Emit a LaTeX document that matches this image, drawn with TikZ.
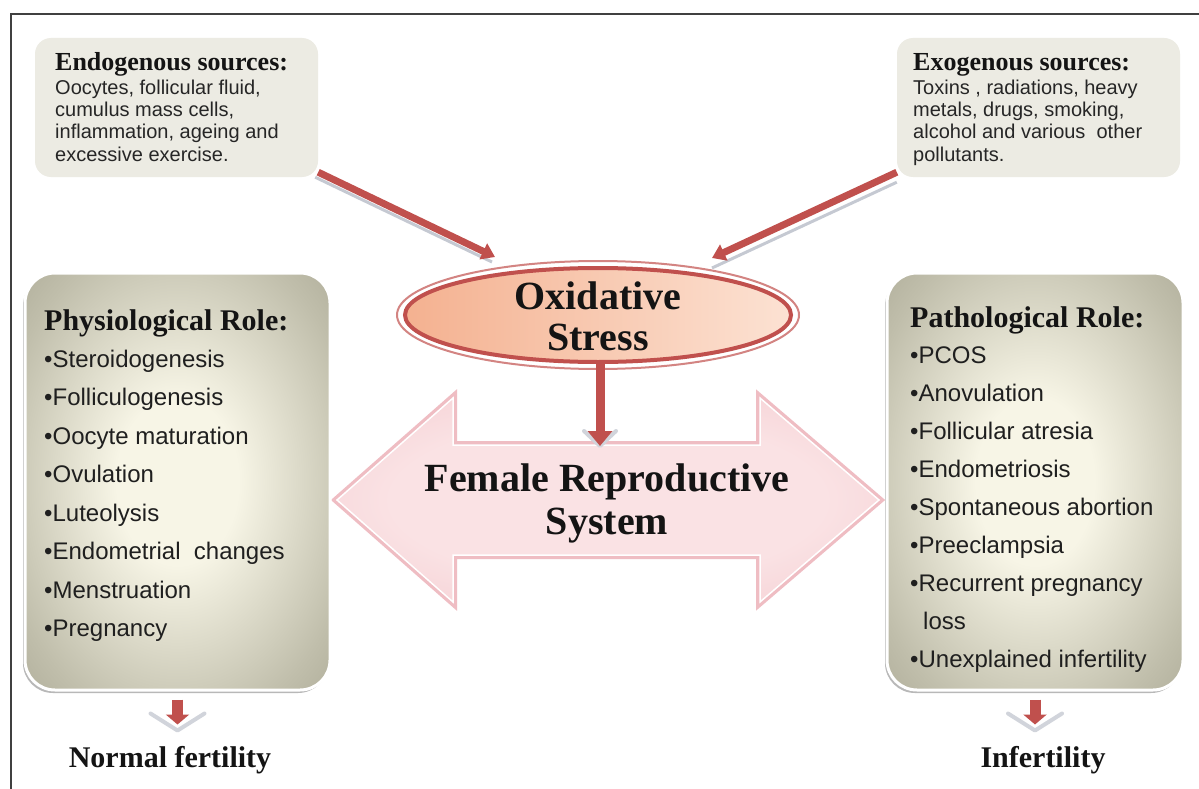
\documentclass[tikz,border=0pt]{standalone}
\usepackage{fontspec}
\setmainfont{Liberation Serif}
\setsansfont{Liberation Sans}
\usetikzlibrary{arrows.meta,shapes.geometric,calc}
\definecolor{boxfill}{HTML}{ECEBE3}
\definecolor{ared}{HTML}{C0504D}
\definecolor{pnlC}{HTML}{F7F5E6}
\definecolor{pnlM}{HTML}{C0BEAB}
\definecolor{pnlE}{HTML}{989682}
\definecolor{pnlK}{HTML}{74725E}
\definecolor{pinkA}{HTML}{F1BCC2}
\definecolor{pinkB}{HTML}{FAE2E4}
\definecolor{pinkE}{HTML}{E8A1A9}
\definecolor{peachA}{HTML}{F4B190}
\definecolor{peachB}{HTML}{FCE2D3}
\definecolor{shadowc}{HTML}{C5C9D2}
\pgfdeclareradialshading{panelshade}{\pgfpoint{0bp}{0bp}}{color(0bp)=(pnlC); color(10bp)=(pnlC); color(30bp)=(pnlM); color(47bp)=(pnlE); color(71bp)=(pnlK)}
\pgfdeclareradialshading{pinkshade}{\pgfpoint{0bp}{0bp}}{color(0bp)=(pinkB); color(20bp)=(pinkB); color(50bp)=(pinkA); color(71bp)=(pinkA)}
\tikzset{
  srcbox/.style={rectangle, rounded corners=16pt, fill=boxfill, minimum width=283pt, minimum height=139pt, inner sep=0pt},
  panel/.style={rectangle, rounded corners=30pt, minimum width=305pt, minimum height=417pt, inner sep=0pt,
    preaction={fill=black!28, transform canvas={shift={(-2pt,-3pt)}}},
    shading=panelshade, draw=white, line width=3pt},
  ttl/.style={font=\bfseries\fontsize{30}{32}\selectfont, anchor=base west, inner sep=0pt, text=black!92},
  itm/.style={font=\sffamily\fontsize{24}{26}\selectfont, anchor=base west, inner sep=0pt, text=black!88},
  srcT/.style={font=\bfseries\fontsize{26}{28}\selectfont, anchor=base west, inner sep=0pt, text=black!92},
  srcB/.style={font=\sffamily\fontsize{20}{22}\selectfont, anchor=base west, inner sep=0pt, text=black!85},
  big/.style={font=\bfseries\fontsize{40}{42}\selectfont, anchor=base, inner sep=0pt, text=black!92},
  lbl/.style={font=\bfseries\fontsize{30}{32}\selectfont, anchor=base, inner sep=0pt, text=black!92},
  srcarrow/.style={draw=ared, line width=7pt, -{Triangle[length=13pt,width=17pt]}},
  srcshadow/.style={draw=shadowc, line width=3pt, transform canvas={shift={(-3pt,-5pt)}}},
  smallarrow/.style={draw=ared, line width=11pt, -{Triangle[length=10pt,width=23pt]}},
  chev/.style={draw=shadowc!80, line width=4pt, line join=round, line cap=round}
}
\begin{document}
\begin{tikzpicture}[x=1pt,y=-1pt]
\useasboundingbox[fill=white] (0,0) rectangle (1199,789);
\draw[line width=1.8pt, black!75] (11,789) -- (11,14) -- (1199,14);

% source boxes
\node[srcbox] (endo) at (176.5,107.5) {};
\node[srcbox] (exo) at (1038.5,107.5) {};
\node[srcT] (endoT) at (55,71) {Endogenous sources:};
\foreach \t [count=\i] in {{Oocytes, follicular fluid,},{cumulus mass cells,},{inflammation, ageing and},{excessive exercise.}}
  \node[srcB] (endoL\i) at (55,{95+22*(\i-1)}) {\t};
\node[srcT] (exoT) at (913,71) {Exogenous sources:};
\foreach \t [count=\i] in {{Toxins , radiations, heavy},{metals, drugs, smoking,},{alcohol and various\ \ other},{pollutants.}}
  \node[srcB] (exoL\i) at (913,{95+22*(\i-1)}) {\t};

% oxidative stress
\node[ellipse, draw=ared!70, line width=2pt, fill=white, minimum width=402pt, minimum height=108pt] (oxo) at (598,315) {};
\node[ellipse, draw=ared, line width=4pt, left color=peachA, right color=peachB, minimum width=386pt, minimum height=94pt] (ox) at (598,315) {};
\node[big] (oxT1) at (598,309) {Oxidative};
\node[big] (oxT2) at (598,350) {Stress};
\coordinate (tipL) at (495,257);
\coordinate (tipR) at (712,258);

% source arrows
\draw[srcshadow] ([yshift=5pt]endo.south east) -- (tipL);
\draw[srcarrow] ([yshift=5pt]endo.south east) -- (tipL);
\draw[srcshadow, transform canvas={shift={(3pt,-5pt)}}] ([yshift=5pt]exo.south west) -- (tipR);
\draw[srcarrow] ([yshift=5pt]exo.south west) -- (tipR);

% double arrow
\def\dblarrow{(337,500) -- (453,398) -- (453,445) -- (760,445) -- (760,398) -- (879,500) -- (760,602) -- (760,555) -- (453,555) -- (453,602) -- cycle}
\draw[line width=8pt, pinkE!70, line join=miter] \dblarrow;
\path[shading=pinkshade] \dblarrow;
\draw[white, line width=1.5pt, line join=miter] \dblarrow;
\node[big] (fr1) at (607,491) {Female Reproductive};
\node[big] (fr2) at (607,534) {System};
\coordinate (shaftTop) at (600,446);

% down arrow from oxidative stress
\draw[chev] (584,431) -- (600,446) -- (616,431);
\draw[draw=ared, line width=9pt, -{Triangle[length=15pt,width=24pt]}] (ox.south -| shaftTop) -- (shaftTop);

% panels
\node[panel] (phys) at (177.5,481.5) {};
\node[panel, minimum width=296pt] (path) at (1035,481.5) {};
\node[ttl] (physT) at (44,330) {Physiological Role:};
\foreach \t [count=\i] in {Steroidogenesis,Folliculogenesis,Oocyte maturation,Ovulation,Luteolysis,{Endometrial\ \ changes},Menstruation,Pregnancy}
  \node[itm] (physL\i) at (44,{367+38.5*(\i-1)}) {\textbullet\t};
\node[ttl] (pathT) at (910,327) {Pathological Role:};
\foreach \t [count=\i] in {PCOS,Anovulation,Follicular atresia,Endometriosis,Spontaneous abortion,Preeclampsia,Recurrent pregnancy}
  \node[itm] (pathL\i) at (910,{363+38*(\i-1)}) {\textbullet\t};
\node[itm] (pathL8) at (923,629) {loss};
\node[itm] (pathL9) at (910,667) {\textbullet Unexplained infertility};

% bottom arrows and labels
\node[lbl] (normal) at (170,767) {Normal fertility};
\node[lbl] (infert) at (1043,767) {Infertility};
\draw[chev] ($(phys.south)+(-27,22)$) -- ($(phys.south)+(0,39)$) -- ($(phys.south)+(27,22)$);
\draw[smallarrow] ($(phys.south)+(0,8)$) -- ($(phys.south)+(0,33)$);
\draw[chev] ($(path.south)+(-27,22)$) -- ($(path.south)+(0,39)$) -- ($(path.south)+(27,22)$);
\draw[smallarrow] ($(path.south)+(0,8)$) -- ($(path.south)+(0,33)$);
\end{tikzpicture}
\end{document}
